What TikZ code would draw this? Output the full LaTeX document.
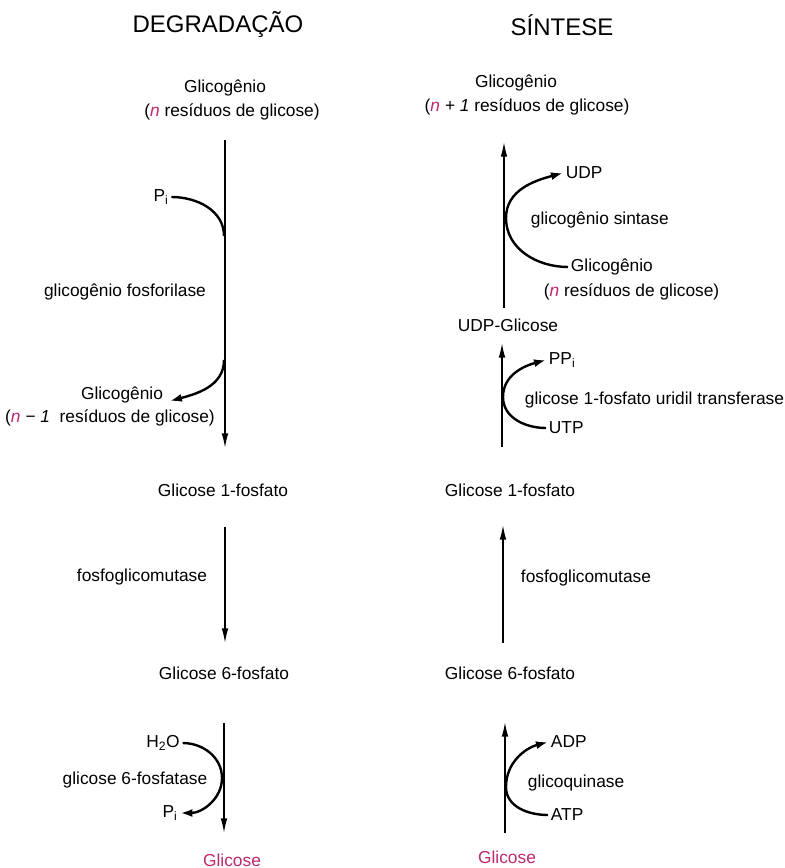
\documentclass[tikz,border=0pt]{standalone}
\usepackage{fontspec}
\setmainfont{Liberation Sans}
\usetikzlibrary{arrows.meta}
\definecolor{rosa}{RGB}{190,40,110}

\begin{document}
\begin{tikzpicture}[
    x=0.75pt, y=-0.75pt,
    texto/.style={inner sep=2pt, font=\fontsize{13}{15}\selectfont},
    titulo/.style={inner sep=0pt, font=\fontsize{18}{20}\selectfont},
    seta/.style={line width=1.1pt, -{Latex[length=11pt,width=5pt]}},
    arco/.style={line width=1.8pt},
    ponta/.style={-{Latex[length=9pt,width=6pt]}}
]
    \useasboundingbox (0,0) rectangle (785,868);

    % Degradacao
    \node[titulo] (titD) at (218,25) {DEGRADAÇÃO};
    \node[texto] (gA) at (225,88) {Glicogênio};
    \node[texto] (gAn) at (232,112) {(\textit{\textcolor{rosa}{n}}~resíduos de glicose)};
    \node[texto] (pi1) at (161,197) {P\textsubscript{i}};
    \node[texto] (enz1) at (125,292) {glicogênio fosforilase};
    \node[texto] (gB) at (122,395) {Glicogênio};
    \node[texto] (gBn) at (110,418) {(\textit{\textcolor{rosa}{n} − 1}~ resíduos de glicose)};
    \node[texto] (g1pL) at (223,490) {Glicose 1-fosfato};
    \node[texto] (enz2) at (142,577) {fosfoglicomutase};
    \node[texto] (g6pL) at (224,673) {Glicose 6-fosfato};
    \node[texto] (h2o) at (163,743) {H\textsubscript{2}O};
    \node[texto] (enz3) at (135,780) {glicose 6-fosfatase};
    \node[texto] (pi2) at (170,813) {P\textsubscript{i}};
    \node[texto, text=rosa] (glcL) at (232,860) {Glicose};

    \coordinate (d1a) at (225,140); \coordinate (d1b) at (225,448);
    \coordinate (d2a) at (225,527); \coordinate (d2b) at (225,643);
    \coordinate (d3a) at (224,723); \coordinate (d3b) at (224,833);
    \coordinate (t1) at (224,236);
    \coordinate (t2) at (224,360);
    \coordinate (t3) at (222,778);

    \draw[seta] (d1a) -- (d1b);
    \draw[seta] (d2a) -- (d2b);
    \draw[seta] (d3a) -- (d3b);
    \draw[arco] (pi1.east) to[out=0,in=90] (t1);
    \draw[arco, ponta] (t2) to[out=-90,in=15] ([shift={(4,6)}]gB.east);
    \draw[arco, ponta] (h2o.east) to[out=0,in=90] (t3) to[out=-90,in=0] (pi2.east);

    % Sintese
    \node[titulo] (titS) at (562,25) {SÍNTESE};
    \node[texto] (gC) at (516,83) {Glicogênio};
    \node[texto] (gCn) at (527,107) {(\textit{\textcolor{rosa}{n} + 1}~resíduos de glicose)};
    \node[texto, anchor=west] (udp) at (563,173) {UDP};
    \node[texto, anchor=west] (enz4) at (528,220) {glicogênio sintase};
    \node[texto, anchor=west] (gD) at (568,267) {Glicogênio};
    \node[texto, anchor=west] (gDn) at (541,292) {(\textit{\textcolor{rosa}{n}}~resíduos de glicose)};
    \node[texto] (udpg) at (508,325) {UDP-Glicose};
    \node[texto, anchor=west] (ppi) at (546,360) {PP\textsubscript{i}};
    \node[texto, anchor=west] (enz5) at (522,400) {glicose 1-fosfato uridil transferase};
    \node[texto, anchor=west] (utp) at (546,428) {UTP};
    \node[texto] (g1pR) at (510,490) {Glicose 1-fosfato};
    \node[texto, anchor=west] (enz6) at (518,578) {fosfoglicomutase};
    \node[texto] (g6pR) at (510,673) {Glicose 6-fosfato};
    \node[texto, anchor=west] (adp) at (548,742) {ADP};
    \node[texto, anchor=west] (enz7) at (525,783) {glicoquinase};
    \node[texto, anchor=west] (atp) at (548,815) {ATP};
    \node[texto, text=rosa] (glcR) at (507,857) {Glicose};

    \coordinate (s1a) at (504,308); \coordinate (s1b) at (504,142);
    \coordinate (s2a) at (502,447); \coordinate (s2b) at (502,343);
    \coordinate (s3a) at (503,643); \coordinate (s3b) at (503,525);
    \coordinate (s4a) at (505,833); \coordinate (s4b) at (505,722);
    \coordinate (t4) at (506,218);
    \coordinate (t5) at (503,397);
    \coordinate (t6) at (506,787);

    \draw[seta] (s1a) -- (s1b);
    \draw[seta] (s2a) -- (s2b);
    \draw[seta] (s3a) -- (s3b);
    \draw[seta] (s4a) -- (s4b);
    \draw[arco, ponta] (gD.west) to[out=180,in=-90] (t4) to[out=90,in=195] (udp.west);
    \draw[arco, ponta] (utp.west) to[out=180,in=-90] (t5) to[out=90,in=195] (ppi.west);
    \draw[arco, ponta] (atp.west) to[out=180,in=-90] (t6) to[out=90,in=195] (adp.west);

\end{tikzpicture}
\end{document}
